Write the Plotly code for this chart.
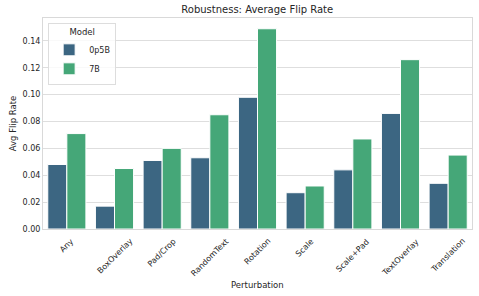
import plotly.graph_objects as go

categories = ["Any", "BoxOverlay", "Pad/Crop", "RandomText", "Rotation", "Scale", "Scale+Pad", "TextOverlay", "Translation"]
vals_0p5b = [0.048, 0.017, 0.051, 0.053, 0.098, 0.027, 0.044, 0.086, 0.034]
vals_7b = [0.071, 0.045, 0.060, 0.085, 0.149, 0.032, 0.067, 0.126, 0.055]
yticks = [0.0, 0.02, 0.04, 0.06, 0.08, 0.10, 0.12, 0.14]
ytick_text = ["0.00", "0.02", "0.04", "0.06", "0.08", "0.10", "0.12", "0.14"]

FONT = "DejaVu Sans"
TXT = "#262626"
fig = go.Figure()
fig.add_trace(go.Bar(x=categories, y=vals_0p5b, name="0p5B",
                     marker=dict(color="#3c6682", line=dict(color="white", width=1))))
fig.add_trace(go.Bar(x=categories, y=vals_7b, name="7B",
                     marker=dict(color="#45a778", line=dict(color="white", width=1))))

# category labels rotated 45 degrees, centred on each category (matplotlib style)
for c in categories:
    fig.add_annotation(x=c, y=0, xref="x", yref="paper", text=c, showarrow=False,
                       textangle=-45, xanchor="center", yanchor="top", yshift=-5,
                       font=dict(family=FONT, size=8, color=TXT))
fig.add_annotation(x=0.5, y=0, xref="paper", yref="paper", text="Perturbation",
                   showarrow=False, xanchor="center", yanchor="middle", yshift=-56,
                   font=dict(family=FONT, size=8.5, color=TXT))

fig.update_layout(
    width=479, height=296,
    margin=dict(l=43, r=7, t=18, b=67),
    paper_bgcolor="white", plot_bgcolor="white",
    barmode="group", bargap=0.2, bargroupgap=0,
    font=dict(family=FONT, size=8, color=TXT),
    title=dict(text="Robustness: Average Flip Rate", x=0.537, xanchor="center",
               y=0.968, yanchor="middle", font=dict(size=10, color=TXT)),
    showlegend=True,
    legend=dict(title=dict(text="Model", side="top center", font=dict(size=8.5)),
                x=0.012, y=0.975, xanchor="left", yanchor="top",
                bgcolor="rgba(255,255,255,0.8)", bordercolor="#dddddd", borderwidth=1,
                font=dict(size=8), itemwidth=30, tracegroupgap=0),
    xaxis=dict(range=[-0.5, 8.5], showticklabels=False, showgrid=False, automargin=False,
               showline=True, linecolor="#d9d9d9", linewidth=1, mirror=True, ticks=""),
    yaxis=dict(range=[0, 0.157], tickvals=yticks, ticktext=ytick_text, automargin=False,
               showgrid=True, gridcolor="#dedede", gridwidth=1,
               showline=True, linecolor="#d9d9d9", linewidth=1, mirror=True,
               zeroline=False, ticks="", tickfont=dict(size=8),
               title=dict(text="Avg Flip Rate", font=dict(size=8.5), standoff=4)),
)
fig.write_html("out.html", config={"displayModeBar": False},
               post_script="document.body.style.margin='0';")
